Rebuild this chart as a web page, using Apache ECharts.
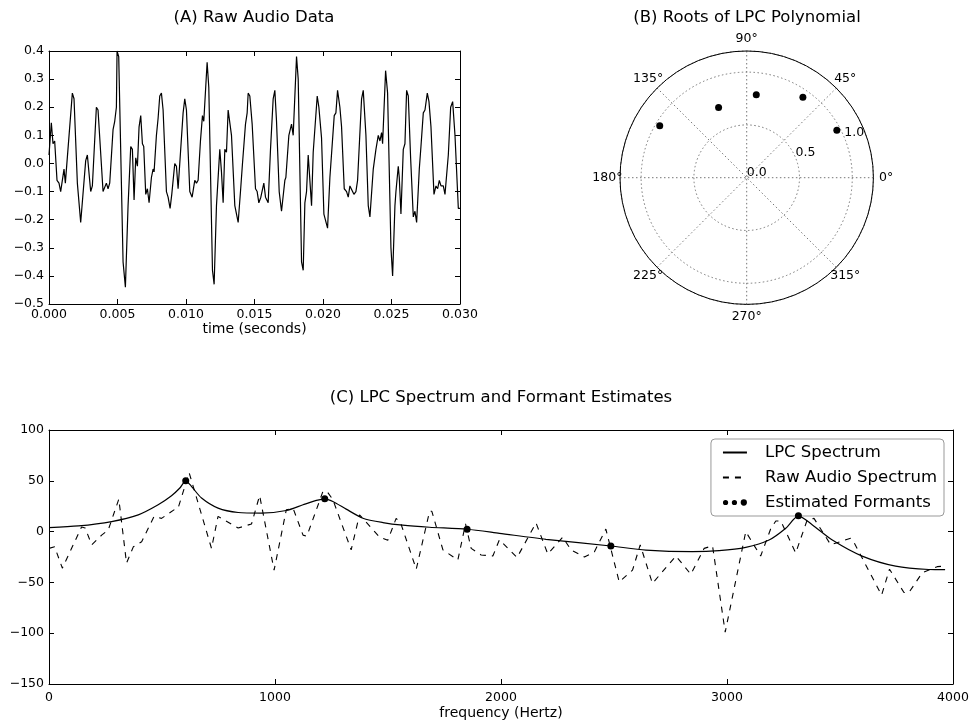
<!DOCTYPE html>
<html>
<head>
<meta charset="utf-8">
<script src="https://cdn.jsdelivr.net/npm/echarts@6.0.0/dist/echarts.min.js"></script>
<style>
  html, body { margin: 0; padding: 0; background: #fff; }
  #chart { width: 971px; height: 721px; }
</style>
</head>
<body>
<div id="chart"></div>
<script>
// (A) raw audio, time in milliseconds
var audioTimeMs = [
  0, 0.170, 0.292, 0.414, 0.584, 0.730, 0.852, 0.974, 1.096, 1.193,
  1.704, 1.826, 2.070, 2.313, 2.435, 2.679, 2.800, 3.044, 3.165, 3.458,
  3.579, 3.945, 4.066, 4.188, 4.310, 4.432, 4.675, 4.797, 4.919, 4.967,
  5.089, 5.406, 5.576, 5.771, 5.966, 6.087, 6.209, 6.331, 6.453, 6.574,
  6.696, 6.818, 6.915, 7.061, 7.183, 7.305, 7.476, 7.597, 7.670, 7.841,
  7.962, 8.084, 8.206, 8.328, 8.571, 8.693, 8.839, 8.961, 9.180, 9.302,
  9.423, 9.545, 9.789, 9.910, 10.032, 10.276, 10.446, 10.641, 10.763, 10.885,
  11.055, 11.201, 11.298, 11.542, 11.664, 11.932, 12.053, 12.224, 12.467, 12.589,
  12.711, 12.833, 12.954, 13.076, 13.149, 13.320, 13.563, 13.685, 13.807, 13.977,
  14.123, 14.342, 14.464, 14.537, 14.659, 14.829, 15.073, 15.194, 15.316, 15.462,
  15.681, 15.803, 15.998, 16.168, 16.363, 16.485, 16.607, 16.802, 16.972, 17.216,
  17.289, 17.508, 17.703, 17.824, 18.068, 18.190, 18.433, 18.555, 18.677, 18.798,
  18.920, 19.164, 19.285, 19.407, 19.578, 19.699, 19.894, 20.065, 20.187, 20.333,
  20.503, 20.820, 20.941, 21.063, 21.233, 21.355, 21.550, 21.720, 21.842, 21.964,
  22.086, 22.256, 22.402, 22.524, 22.816, 22.938, 23.133, 23.303, 23.425, 23.669,
  23.863, 24.034, 24.156, 24.277, 24.350, 24.569, 24.715, 24.959, 25.081, 25.251,
  25.324, 25.494, 25.567, 25.689, 25.860, 25.981, 26.103, 26.225, 26.395, 26.590,
  26.712, 26.834, 27.029, 27.150, 27.321, 27.443, 27.613, 27.735, 27.881, 28.100,
  28.246, 28.368, 28.490, 28.612, 28.782, 28.904, 29.147, 29.318, 29.464, 29.634,
  29.878, 30.0
];
var audioValue = [
  0.03, 0.145, 0.07, 0.08, -0.06, -0.07, -0.10, -0.10, -0.02, -0.07,
  0.25, 0.23, -0.07, -0.21, -0.21, 0.01, 0.03, -0.10, -0.08, 0.20,
  0.19, -0.10, -0.10, -0.07, -0.09, -0.07, 0.12, 0.15, 0.20, 0.40,
  0.38, -0.35, -0.44, -0.15, 0.06, 0.05, -0.13, 0.02, -0.01, 0.13,
  0.17, 0.07, 0.06, -0.11, -0.09, -0.14, -0.05, -0.02, -0.03, 0.10,
  0.16, 0.24, 0.25, 0.19, -0.10, -0.12, -0.16, -0.11, 0.00, -0.01,
  -0.09, -0.09, 0.18, 0.23, 0.19, -0.10, -0.12, -0.06, -0.07, -0.06,
  0.08, 0.17, 0.15, 0.36, 0.27, -0.38, -0.43, -0.15, 0.05, -0.03,
  -0.14, 0.05, 0.04, 0.19, 0.19, 0.10, -0.15, -0.15, -0.21, -0.10,
  0.00, 0.14, 0.18, 0.25, 0.24, 0.14, -0.09, -0.10, -0.14, -0.12,
  -0.07, -0.12, -0.14, 0.05, 0.23, 0.26, 0.15, -0.10, -0.17, -0.06,
  -0.05, 0.10, 0.14, 0.10, 0.38, 0.30, -0.35, -0.38, -0.14, -0.10,
  0.03, -0.15, 0.04, 0.04, 0.24, 0.20, 0.09, -0.18, -0.18, -0.23,
  -0.05, 0.17, 0.18, 0.26, 0.20, 0.13, -0.09, -0.10, -0.12, -0.08,
  -0.08, -0.11, -0.10, -0.06, 0.23, 0.26, 0.10, -0.15, -0.19, -0.02,
  0.05, 0.10, 0.08, 0.11, 0.07, 0.33, 0.25, -0.30, -0.40, -0.15,
  -0.10, -0.01, -0.05, -0.18, 0.05, 0.07, 0.26, 0.24, 0.02, -0.19,
  -0.17, -0.21, -0.02, 0.06, 0.18, 0.19, 0.25, 0.22, 0.13, -0.11,
  -0.08, -0.09, -0.06, -0.08, -0.08, -0.11, 0.03, 0.20, 0.22, 0.10,
  -0.16, -0.16
];

// (B) roots of the LPC polynomial (radius, angle in degrees)
var rootRadius = [0.965, 0.93, 0.79, 0.717, 0.96];
var rootAngle = [27.8, 55.1, 83.4, 111.8, 149.1];
// angle tick labels sit centred at 1.1 x the outer radius, as matplotlib does
var angleTicks = [0, 45, 90, 135, 180, 225, 270, 315];
var radiusMax = 1.2;

// (C) spectra in dB
var lpcFreq = [
  0, 130, 277, 395, 483, 542, 579, 605, 630, 675,
  748, 837, 940, 1050, 1124, 1183, 1220, 1256, 1315, 1389,
  1477, 1565, 1684, 1850, 1993, 2199, 2486, 2641, 2847, 2965,
  3083, 3186, 3260, 3316, 3378, 3466, 3598, 3746, 3893, 3965
];
var lpcDb = [
  4, 5.6, 9.9, 16.5, 26.4, 35.3, 42.9, 50, 44.6, 33,
  23.1, 18.8, 18.2, 20.8, 26.4, 30.7, 32.3, 29.7, 22.1, 13.2,
  8.9, 6.3, 4.3, 2.3, -1.7, -7.6, -14.2, -18.2, -19.8, -18.8,
  -15.5, -8.3, 3.3, 15.5, 6.6, -8.3, -24.1, -34, -37.3, -37.5
];
var rawFreq = [
  0, 25, 59, 144, 160, 189, 233, 262, 309, 343,
  373, 410, 465, 498, 557, 571, 620, 719, 748, 837,
  896, 932, 996, 1050, 1080, 1124, 1141, 1212, 1230, 1256,
  1337, 1374, 1463, 1499, 1536, 1556, 1625, 1684, 1694, 1743,
  1809, 1843, 1868, 1912, 1964, 1993, 2071, 2155, 2207, 2273,
  2310, 2369, 2413, 2464, 2523, 2582, 2616, 2670, 2774, 2840,
  2899, 2936, 2992, 3083, 3124, 3149, 3193, 3216, 3238, 3304,
  3355, 3385, 3459, 3547, 3565, 3684, 3719, 3783, 3805, 3864,
  3930, 3965
];
var rawDb = [
  -16.5, -15, -36, 4.5, 3.5, -13, -3.5, 1.5, 32, -31,
  -15, -10, 15, 13, 22, 23, 58, -16.5, 15, 3.5,
  7.5, 35.5, -38, 21.5, 23, -3.5, -4.5, 39.5, 39.5, 31.5,
  -18, 16.5, -5.5, -8.5, 13, 8.5, -37, 20, 20, -18,
  -28, 7.5, -16.5, -23, -24, -8, -25.5, 8.5, -22, -5.5,
  -18, -25, -20, 2.5, -49.5, -38, -13, -51, -24, -42,
  -16.5, -14, -99, 0, -15, -24, 2.5, 10.5, 10.5, -21,
  11.5, 13, -13, -6.5, -12, -62.5, -37, -60, -60, -40.5,
  -34.5, -34
];
var formantFreq = [605, 1220, 1850, 2486, 3316];
var formantDb = [50, 32.3, 2.3, -14.2, 15.5];

var font = 'DejaVu Sans';
var ink = '#000';

function zip(a, b) {
  return a.map(function (v, i) { return [v, b[i]]; });
}
function minus(s) {
  return String(s).replace('-', '\u2212');
}

// plain frame axis: inward ticks, no labels (used for top/right sides)
function frameAxis(extra) {
  var axis = {
    type: 'value',
    axisLine: { show: true, onZero: false, lineStyle: { color: ink, width: 1 } },
    axisTick: { show: true, inside: true, length: 5, lineStyle: { color: ink } },
    splitLine: { show: false },
    axisLabel: { show: false }
  };
  return Object.assign(axis, extra);
}
function tickLabel(fmt, margin) {
  return { show: true, color: ink, fontSize: 12.5, fontFamily: font, margin: margin, formatter: fmt };
}
var nameStyle = { color: ink, fontSize: 14, fontFamily: font };
var titleStyle = { color: ink, fontSize: 16.5, fontWeight: 'normal', fontFamily: font };
var gridLine = { color: '#777', width: 1, type: [1.5, 2.5] };
// legend line icons without the centre marker
var noMarker = { color: 'rgba(0,0,0,0)', borderColor: 'rgba(0,0,0,0)', borderWidth: 0 };

var chart = echarts.init(document.getElementById('chart'), null, { renderer: 'canvas' });

var option = {
  animation: false,
  backgroundColor: '#fff',
  textStyle: { fontFamily: font },
  title: [
    { text: '(A) Raw Audio Data', left: 254, top: 9, textAlign: 'center', padding: 0, textStyle: titleStyle },
    { text: '(B) Roots of LPC Polynomial', left: 747, top: 9, textAlign: 'center', padding: 0, textStyle: titleStyle },
    { text: '(C) LPC Spectrum and Formant Estimates', left: 501, top: 389, textAlign: 'center', padding: 0, textStyle: titleStyle }
  ],
  grid: [
    { left: 49, top: 51, width: 411, height: 253, outerBoundsMode: 'none' },
    { left: 49, top: 430, width: 904, height: 254, outerBoundsMode: 'none' }
  ],
  xAxis: [
    frameAxis({
      gridIndex: 0, position: 'bottom', min: 0, max: 0.03, interval: 0.005,
      axisLabel: tickLabel(function (v) { return v.toFixed(3); }, 4),
      name: 'time (seconds)', nameLocation: 'middle', nameGap: 18, nameTextStyle: nameStyle
    }),
    frameAxis({ gridIndex: 0, position: 'top', min: 0, max: 0.03, interval: 0.005 }),
    frameAxis({
      gridIndex: 1, position: 'bottom', min: 0, max: 4000, interval: 1000,
      axisLabel: tickLabel(function (v) { return String(v); }, 7),
      name: 'frequency (Hertz)', nameLocation: 'middle', nameGap: 22, nameTextStyle: nameStyle
    }),
    frameAxis({ gridIndex: 1, position: 'top', min: 0, max: 4000, interval: 1000 })
  ],
  yAxis: [
    frameAxis({
      gridIndex: 0, position: 'left', min: -0.5, max: 0.4, interval: 0.1,
      axisLabel: tickLabel(function (v) { return minus(v.toFixed(1)); }, 5)
    }),
    frameAxis({ gridIndex: 0, position: 'right', min: -0.5, max: 0.4, interval: 0.1 }),
    frameAxis({
      gridIndex: 1, position: 'left', min: -150, max: 100, interval: 50,
      axisLabel: tickLabel(function (v) { return minus(v); }, 5)
    }),
    frameAxis({ gridIndex: 1, position: 'right', min: -150, max: 100, interval: 50 })
  ],
  polar: [
    { center: [746.7, 177.7], radius: 126.7 },
    { center: [746.7, 177.7], radius: 126.7 }
  ],
  angleAxis: [
    {
      polarIndex: 0, type: 'value', min: 0, max: 360, interval: 45,
      startAngle: 0, clockwise: false,
      axisLine: { show: true, lineStyle: { color: ink, width: 1 } },
      axisTick: { show: false },
      axisLabel: { show: false },
      splitLine: { show: true, lineStyle: gridLine }
    },
    {
      // only carries the radius labels along the 22.5 degree ray
      polarIndex: 1, type: 'value', min: 0, max: 360,
      startAngle: 22.5, clockwise: false,
      axisLine: { show: false }, axisTick: { show: false },
      axisLabel: { show: false }, splitLine: { show: false }
    }
  ],
  radiusAxis: [
    {
      polarIndex: 0, type: 'value', min: 0, max: radiusMax, interval: 0.5,
      axisLine: { show: false }, axisTick: { show: false }, axisLabel: { show: false },
      splitLine: { show: true, lineStyle: gridLine }
    },
    {
      polarIndex: 1, type: 'value', min: 0, max: radiusMax, interval: 0.5,
      axisLine: { show: false }, axisTick: { show: false }, splitLine: { show: false },
      axisLabel: {
        show: true, showMaxLabel: false, color: ink, fontSize: 12.5, fontFamily: font,
        margin: 0, align: 'left', verticalAlign: 'bottom', lineHeight: 9,
        formatter: function (v) { return v.toFixed(1); }
      }
    }
  ],
  legend: {
    orient: 'vertical',
    right: 27,
    top: 439,
    padding: [4, 7, 4, 11],
    itemGap: 6,
    itemWidth: 24,
    itemHeight: 7,
    align: 'left',
    backgroundColor: '#fff',
    borderColor: '#999',
    borderWidth: 1,
    borderRadius: 4,
    textStyle: { color: ink, fontSize: 16.5, fontFamily: font, lineHeight: 19, padding: [0, 0, 0, 13] },
    data: [
      { name: 'LPC Spectrum', itemStyle: noMarker },
      { name: 'Raw Audio Spectrum', itemStyle: noMarker },
      {
        name: 'Estimated Formants',
        icon: 'path://M1,4a2.5,2.5 0 1,0 5,0a2.5,2.5 0 1,0 -5,0M9.5,4a2.5,2.5 0 1,0 5,0a2.5,2.5 0 1,0 -5,0M18,4a3,3 0 1,0 6,0a3,3 0 1,0 -6,0'
      }
    ]
  },
  series: [
    {
      name: 'Raw Audio Data',
      type: 'line',
      xAxisIndex: 0, yAxisIndex: 0,
      data: zip(audioTimeMs.map(function (t) { return t / 1000; }), audioValue),
      symbol: 'none',
      lineStyle: { color: ink, width: 1.2 },
      silent: true
    },
    {
      name: 'Roots',
      type: 'scatter',
      coordinateSystem: 'polar',
      polarIndex: 0,
      data: zip(rootRadius, rootAngle),
      symbolSize: 7,
      itemStyle: { color: ink, opacity: 1 }
    },
    {
      // angle tick labels, centred like matplotlib's polar labels
      name: 'Angle labels',
      type: 'scatter',
      coordinateSystem: 'polar',
      polarIndex: 0,
      clip: false,
      silent: true,
      data: angleTicks.map(function (a) { return [radiusMax * 1.1, a]; }),
      symbolSize: 1,
      itemStyle: { color: 'rgba(0,0,0,0)', opacity: 1 },
      label: {
        show: true, position: 'inside', color: ink, opacity: 1,
        textBorderWidth: 0, fontSize: 12.5, fontFamily: font,
        formatter: function (p) { return p.value[1] + '\u00b0'; }
      }
    },
    {
      name: 'LPC Spectrum',
      type: 'line',
      xAxisIndex: 2, yAxisIndex: 2,
      data: zip(lpcFreq, lpcDb),
      symbol: 'none',
      smooth: 0.25,
      itemStyle: { color: ink },
      lineStyle: { color: ink, width: 1.2 }
    },
    {
      name: 'Raw Audio Spectrum',
      type: 'line',
      xAxisIndex: 2, yAxisIndex: 2,
      data: zip(rawFreq, rawDb),
      symbol: 'none',
      itemStyle: { color: ink },
      lineStyle: { color: ink, width: 1.1, type: [6, 6] }
    },
    {
      name: 'Estimated Formants',
      type: 'scatter',
      xAxisIndex: 2, yAxisIndex: 2,
      data: zip(formantFreq, formantDb),
      symbolSize: 7,
      itemStyle: { color: ink, opacity: 1 },
      z: 5
    }
  ]
};

chart.setOption(option);
</script>
</body>
</html>
